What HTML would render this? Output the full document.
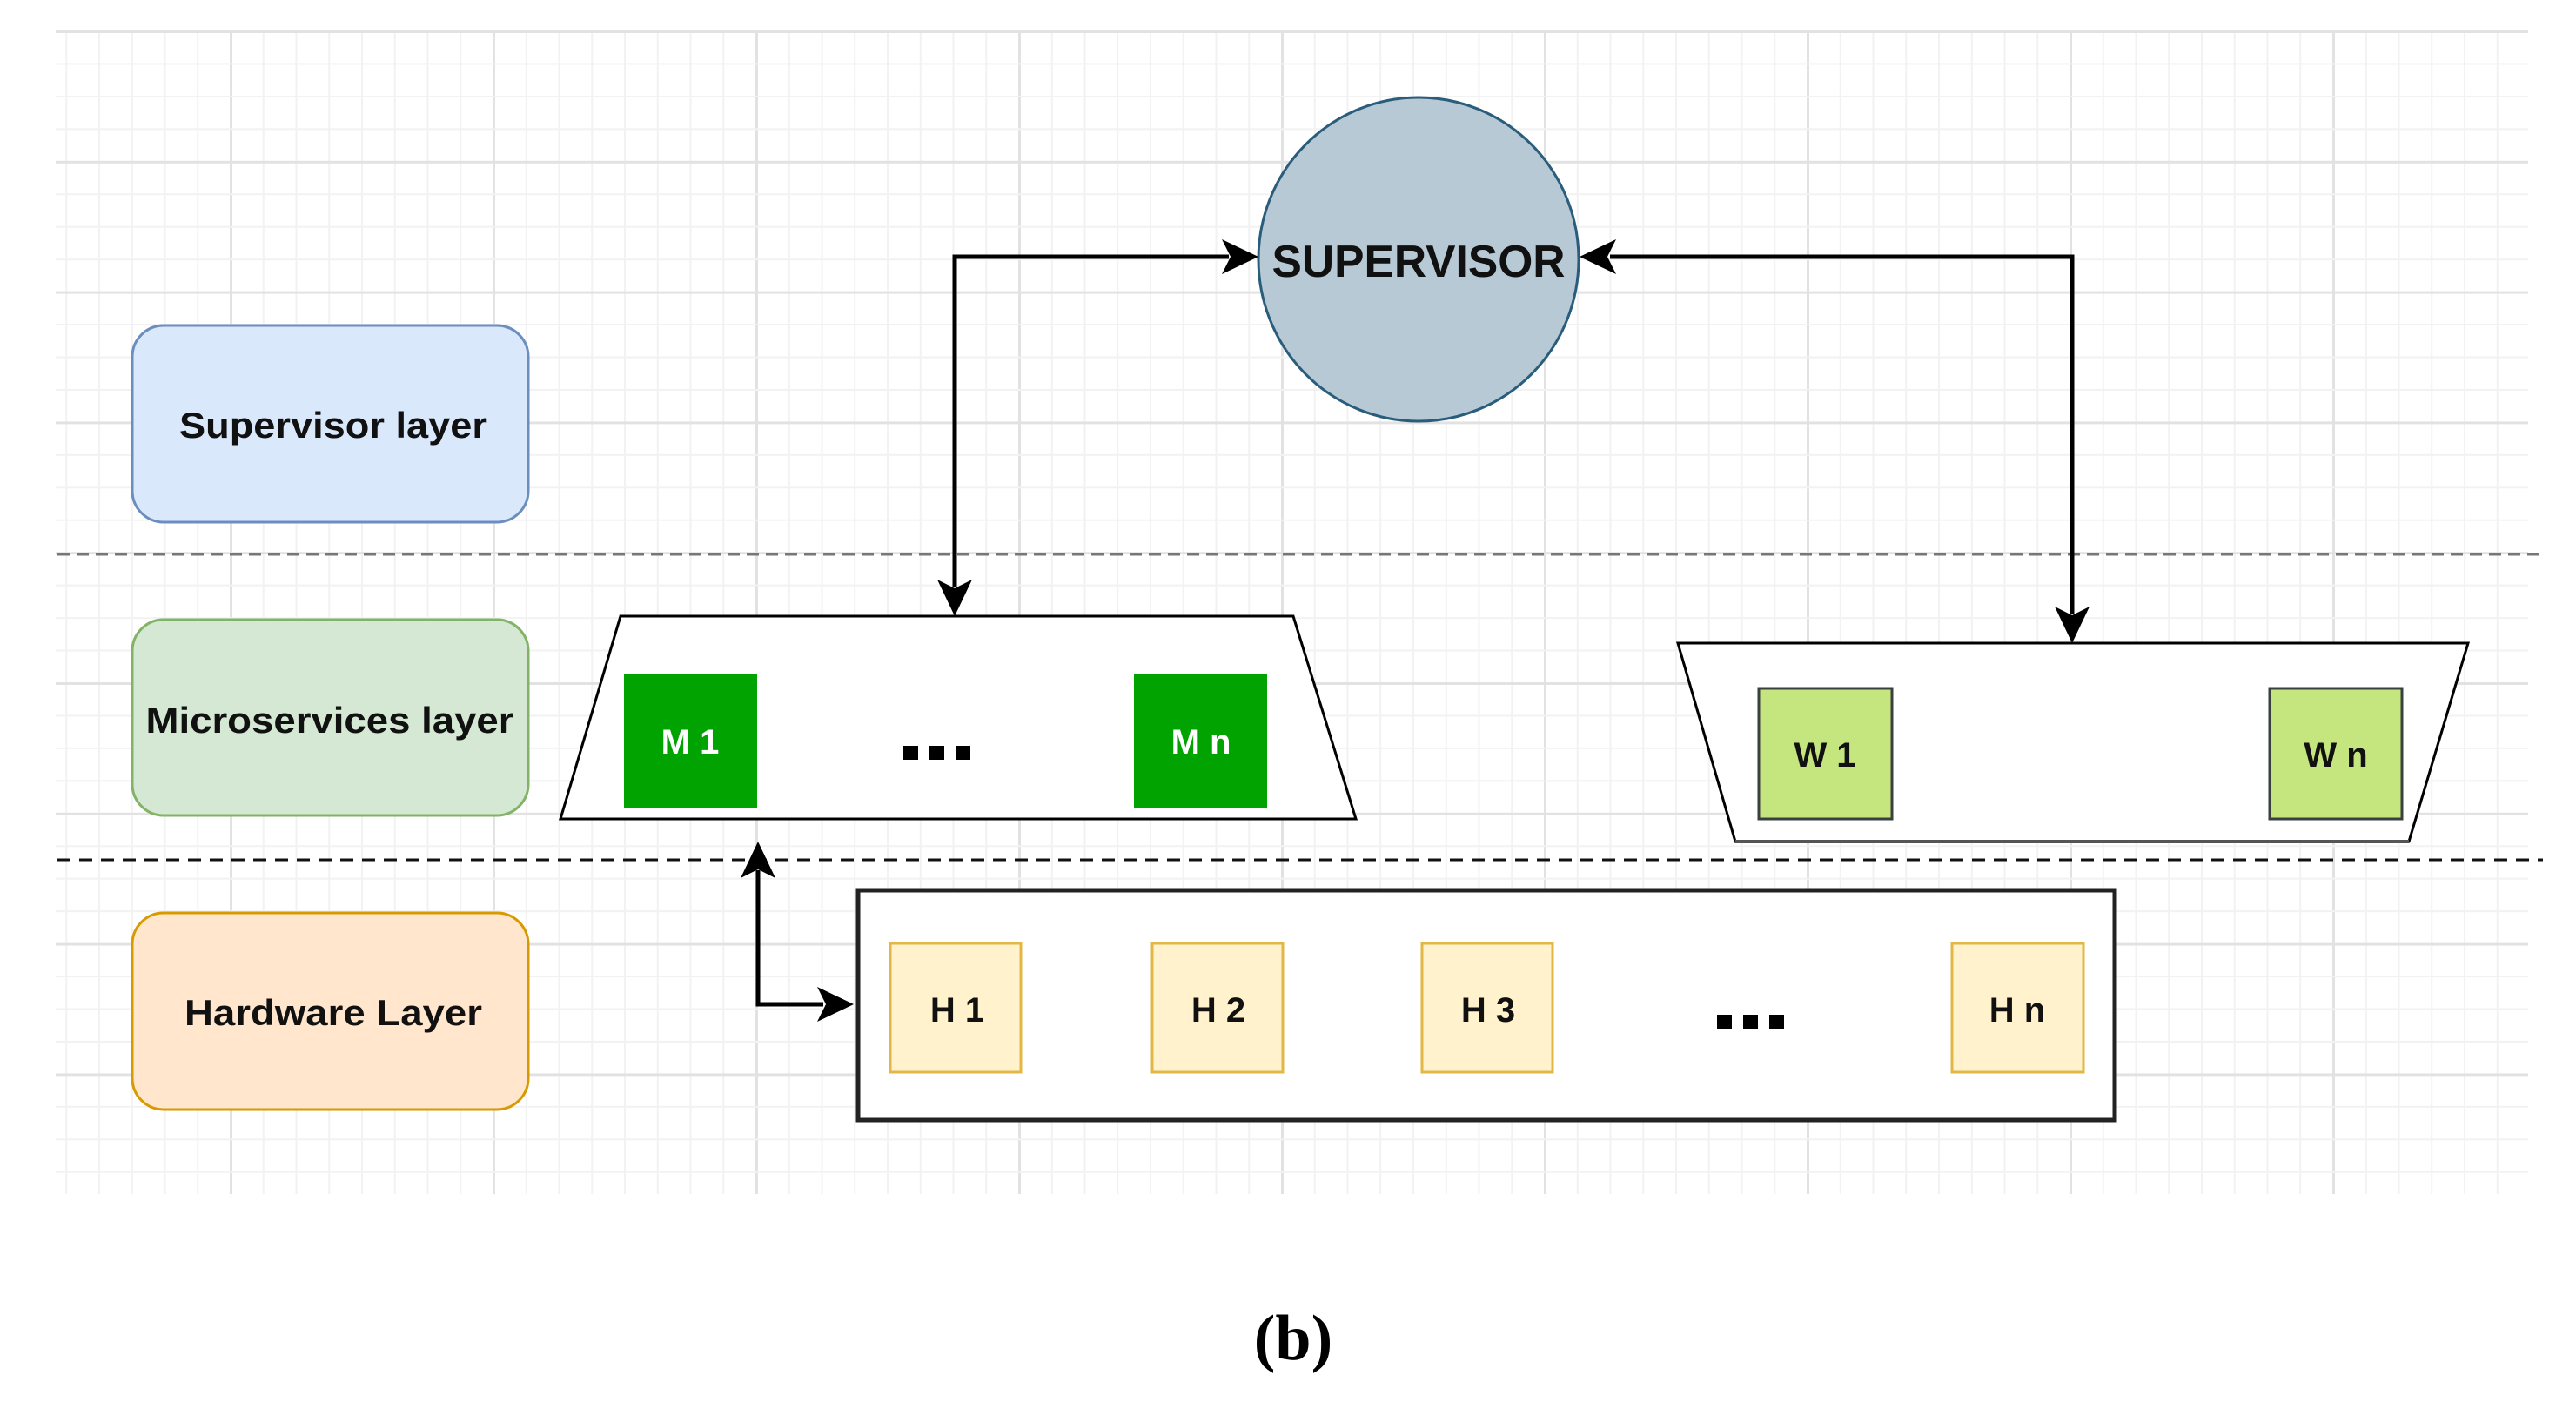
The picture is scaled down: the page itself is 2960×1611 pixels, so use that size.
<!DOCTYPE html>
<html><head><meta charset="utf-8"><style>html,body{margin:0;padding:0;background:#fff}svg{display:block}</style></head>
<body>
<svg width="2960" height="1611" viewBox="0 0 2960 1611" xmlns="http://www.w3.org/2000/svg" font-family="'Liberation Sans', Arial, sans-serif">
<defs>
<pattern id="gv" patternUnits="userSpaceOnUse" x="264" y="0" width="302" height="10">
<rect x="0" y="0" width="3" height="10" fill="#e2e2e2"/>
<rect x="37.75" y="0" width="2" height="10" fill="#f2f2f2"/>
<rect x="75.5" y="0" width="2" height="10" fill="#f2f2f2"/>
<rect x="113.25" y="0" width="2" height="10" fill="#f2f2f2"/>
<rect x="151" y="0" width="2" height="10" fill="#f2f2f2"/>
<rect x="188.75" y="0" width="2" height="10" fill="#f2f2f2"/>
<rect x="226.5" y="0" width="2" height="10" fill="#f2f2f2"/>
<rect x="264.25" y="0" width="2" height="10" fill="#f2f2f2"/>
</pattern>
<pattern id="gh" patternUnits="userSpaceOnUse" x="0" y="35" width="10" height="149.8">
<rect x="0" y="0" width="10" height="3" fill="#e2e2e2"/>
<rect x="0" y="37.45" width="10" height="2" fill="#f2f2f2"/>
<rect x="0" y="74.9" width="10" height="2" fill="#f2f2f2"/>
<rect x="0" y="112.35" width="10" height="2" fill="#f2f2f2"/>
</pattern>
</defs>
<rect x="64" y="35" width="2841" height="1337" fill="url(#gv)"/>
<rect x="64" y="35" width="2841" height="1337" fill="url(#gh)"/>

<!-- dashed separators -->
<line x1="66" y1="637" x2="2922" y2="637" stroke="#777" stroke-width="3" stroke-dasharray="14 8"/>
<line x1="66" y1="988" x2="2922" y2="988" stroke="#111" stroke-width="3" stroke-dasharray="15 10"/>

<!-- layer labels -->
<rect x="152" y="374" width="455" height="226" rx="36" fill="#dae8fc" stroke="#6c8ebf" stroke-width="3"/>
<text x="383" y="503" font-size="42" font-weight="bold" text-anchor="middle" textLength="354" lengthAdjust="spacingAndGlyphs" fill="#111">Supervisor layer</text>
<rect x="152" y="712" width="455" height="225" rx="36" fill="#d5e8d4" stroke="#82b366" stroke-width="3"/>
<text x="379" y="842" font-size="42" font-weight="bold" text-anchor="middle" textLength="423" lengthAdjust="spacingAndGlyphs" fill="#111">Microservices layer</text>
<rect x="152" y="1049" width="455" height="226" rx="36" fill="#ffe6cc" stroke="#d79b00" stroke-width="3"/>
<text x="383" y="1178" font-size="42" font-weight="bold" text-anchor="middle" textLength="342" lengthAdjust="spacingAndGlyphs" fill="#111">Hardware Layer</text>

<!-- supervisor -->
<ellipse cx="1630" cy="298" rx="184" ry="186" fill="#b7c9d5" stroke="#2a5d7c" stroke-width="3"/>
<text x="1630" y="318" font-size="52" font-weight="bold" text-anchor="middle" textLength="337" lengthAdjust="spacingAndGlyphs" fill="#111">SUPERVISOR</text>

<!-- connectors -->
<g stroke="#000" stroke-width="5" fill="none">
<polyline points="1412,295 1097,295 1097,675"/>
<polyline points="1850,295 2381,295 2381,705"/>
<polyline points="871,1000 871,1154 946,1154"/>
</g>
<g fill="#000">
<path d="M1446,295 L1404,275 L1414,295 L1404,315 Z"/>
<path d="M1097,708 L1077,666 L1097,676 L1117,666 Z"/>
<path d="M1815,295 L1857,275 L1847,295 L1857,315 Z"/>
<path d="M2381,739 L2361,697 L2381,707 L2401,697 Z"/>
<path d="M871,967 L851,1009 L871,999 L891,1009 Z"/>
<path d="M981,1154 L939,1134 L949,1154 L939,1174 Z"/>
</g>

<!-- microservices trapezoid -->
<polygon points="713,708 1486,708 1558,941 644,941" fill="#fff" stroke="#000" stroke-width="3"/>
<rect x="717" y="775" width="153" height="153" fill="#00a300"/>
<text x="793" y="866" font-size="40" font-weight="bold" text-anchor="middle" fill="#fff">M 1</text>
<rect x="1303" y="775" width="153" height="153" fill="#00a300"/>
<text x="1380" y="866" font-size="40" font-weight="bold" text-anchor="middle" fill="#fff">M n</text>
<rect x="1038" y="857" width="17" height="16" fill="#000"/>
<rect x="1068" y="857" width="17" height="16" fill="#000"/>
<rect x="1098" y="857" width="17" height="16" fill="#000"/>

<!-- W trapezoid -->
<polygon points="1928,739 2836,739 2768,967 1994,967" fill="#fff" stroke="#000" stroke-width="3"/>
<line x1="1994" y1="967" x2="2768" y2="967" stroke="#555" stroke-width="4"/>
<rect x="2021" y="791" width="153" height="150" fill="#c5e67f" stroke="#3a3f40" stroke-width="3"/>
<text x="2097" y="881" font-size="40" font-weight="bold" text-anchor="middle" fill="#111">W 1</text>
<rect x="2608" y="791" width="152" height="150" fill="#c5e67f" stroke="#3a3f40" stroke-width="3"/>
<text x="2684" y="881" font-size="40" font-weight="bold" text-anchor="middle" fill="#111">W n</text>

<!-- hardware -->
<rect x="986" y="1023" width="1444" height="264" fill="#fff" stroke="#222" stroke-width="5"/>
<g fill="#fff2cc" stroke="#e2b746" stroke-width="3">
<rect x="1023" y="1084" width="150" height="148"/>
<rect x="1324" y="1084" width="150" height="148"/>
<rect x="1634" y="1084" width="150" height="148"/>
<rect x="2243" y="1084" width="151" height="148"/>
</g>
<g font-size="40" font-weight="bold" text-anchor="middle" fill="#111">
<text x="1100" y="1174">H 1</text>
<text x="1400" y="1174">H 2</text>
<text x="1710" y="1174">H 3</text>
<text x="2318" y="1174">H n</text>
</g>
<rect x="1973" y="1166" width="17" height="16" fill="#000"/>
<rect x="2003" y="1166" width="17" height="16" fill="#000"/>
<rect x="2033" y="1166" width="17" height="16" fill="#000"/>

<text x="1486" y="1562" font-family="'Liberation Serif', serif" font-size="74" font-weight="bold" text-anchor="middle" fill="#000">(b)</text>
</svg>
</body></html>
